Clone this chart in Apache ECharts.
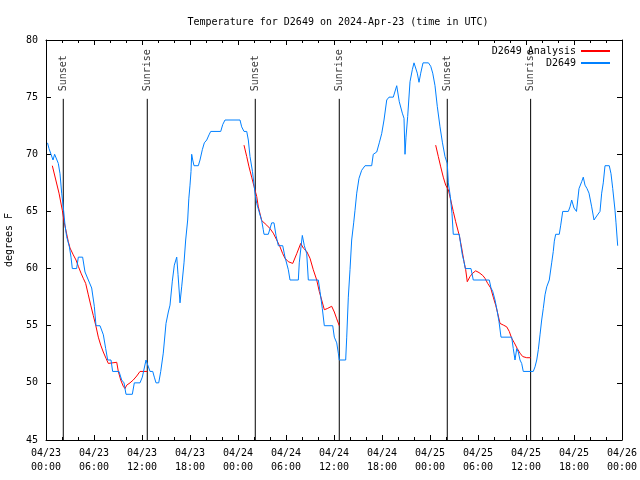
<!DOCTYPE html>
<html><head><meta charset="utf-8">
<script src="https://cdn.jsdelivr.net/npm/echarts@6/dist/echarts.min.js"></script>
<style>html,body{margin:0;padding:0;background:#fff}#c{width:640px;height:480px}</style>
</head><body><div id="c"></div><script>
// Hours since 2024-04-23 00:00 UTC
const xTickLabels = ['04/23\n00:00','04/23\n06:00','04/23\n12:00','04/23\n18:00','04/24\n00:00','04/24\n06:00','04/24\n12:00','04/24\n18:00','04/25\n00:00','04/25\n06:00','04/25\n12:00','04/25\n18:00','04/26\n00:00'];
const sunNames = ['Sunset','Sunrise','Sunset','Sunrise','Sunset','Sunrise'];
const sunHours = [2.16, 12.66, 26.16, 36.66, 50.16, 60.58];
const sunLineTop = 74.85;

const blueT = [0.19,0.375,0.625,0.875,1.08,1.33,1.54,1.75,1.96,2.17,2.375,2.58,2.92,3.125,3.29,3.83,4.04,4.58,4.875,5.29,5.71,6.04,6.25,6.75,7.17,7.46,7.71,8.125,8.33,9.125,9.46,9.75,10.0,10.79,11.04,11.75,12.04,12.5,13.0,13.34,13.54,13.75,14.09,14.34,14.66,15.0,15.29,15.5,15.79,16.04,16.34,16.5,16.75,16.96,17.25,17.46,17.71,17.85,18.0,18.125,18.21,18.34,18.5,19.04,19.25,19.54,19.79,20.09,20.375,20.59,21.84,22.09,22.375,24.25,24.46,24.75,25.09,25.29,25.5,25.81,26.125,26.34,26.625,26.96,27.16,27.25,27.79,28.21,28.5,28.75,29.04,29.59,29.875,30.09,30.29,30.5,31.54,31.66,31.875,32.04,32.29,32.59,32.79,34.04,34.25,34.54,34.79,35.84,36.04,36.34,36.54,36.66,37.46,37.59,37.79,38.0,38.21,38.46,38.625,38.84,39.125,39.46,39.875,40.71,40.91,41.34,41.66,41.96,42.25,42.59,42.875,43.41,43.84,44.16,44.54,44.75,44.875,45.0,45.21,45.5,45.79,46.0,46.25,46.41,46.625,46.84,47.125,47.81,48.09,48.34,48.625,48.91,49.25,49.56,49.875,50.16,50.29,50.54,50.75,50.91,51.66,51.84,52.04,52.25,52.41,53.125,53.41,55.41,55.625,55.84,56.125,56.34,56.625,56.875,58.21,58.41,58.625,58.84,59.04,59.25,59.46,59.66,60.91,61.125,61.34,61.54,61.75,61.96,62.16,62.375,62.59,62.91,63.21,63.41,63.54,63.71,64.16,64.34,64.59,65.29,65.5,65.71,66.0,66.31,66.625,66.96,67.16,67.375,67.625,67.875,68.21,68.5,68.84,69.25,69.46,69.66,69.875,70.41,70.625,70.84,71.125,71.25,71.46];
const blueV = [71,70.5,70,69.5,70,70,69.2,68.3,66.6,65.3,63.8,62.8,61.9,61,60,60,61,61,59.7,59,58.3,56.7,55,55,54.2,53,52,52,51,51,50.25,50,49,49,50,50,50.5,52,51,51,50.5,50,50,51,52.6,55.2,56.2,56.8,58.9,60.3,61,59.5,57,58.4,60.5,62.5,64.25,66.1,67.3,68.5,70,69.5,69,69,69.5,70.4,71,71.25,71.7,72,72,72.6,73,73,72.4,72,72,71.25,69.8,68.5,66.6,65.7,65,64.2,63.4,63,63,64,64,62.9,62,62,61,60.9,59.9,59,59,60.5,61.9,62.9,62,61.3,59,59,58,56.5,55,55,54,53.5,52.6,52,52,54,57.5,59.9,62.5,64,65.1,66.6,67.9,68.6,69,69,70,70.2,71,71.8,73,74.75,75,75,76,74.6,73.6,73.15,70,71.5,73.3,76.35,77.4,78,78,77.1,76.3,77.1,78,78,77.7,77.1,76,74.2,72.4,71,69.8,69.2,67.5,66.3,64.8,63,63,62.1,61.2,60.6,60,60,59,59,58.3,58,57.25,56.5,55.35,54,54,53,52,53,52.7,52,51.7,51,51,51.4,52,52.9,54.2,55.5,56.5,57.7,58.4,59,60.5,61.5,62.4,63,63,63.8,65,65,65.4,66,65.3,65,67,67.6,68,67.3,67,66.6,65.4,64.25,64.6,65,66.6,67.5,69,69,68.3,67,65.1,64,62];

// Analysis series; null separates the three evening-to-morning segments
const redT = [0.79,1.625,2.04,2.29,2.79,3.0,3.41,3.75,4.04,4.375,4.66,4.96,5.29,5.59,5.91,6.21,6.54,6.84,7.16,7.5,7.79,8.0,8.84,9.04,9.34,9.66,9.875,10.09,10.5,10.91,11.34,11.75,12.66,
  null,
  24.75,25.09,25.375,25.71,26.0,26.34,26.54,26.96,27.59,28.0,28.41,28.84,29.25,29.59,29.875,30.29,30.84,31.34,31.84,32.16,32.59,33.0,33.41,33.84,34.16,34.46,34.79,35.16,35.71,36.04,36.34,36.66,
  null,
  48.71,49.04,49.34,49.66,49.96,50.29,50.59,50.91,51.21,51.66,51.96,52.25,52.46,52.66,53.0,53.34,53.71,54.125,54.59,54.875,55.21,55.59,55.91,56.21,56.46,56.75,57.16,57.59,57.91,58.21,58.54,58.91,59.25,59.59,60.09,60.58];
const redV = [69,66.6,65.1,64.0,62.35,61.8,61.2,60.75,60.2,59.6,59.15,58.7,57.7,56.8,55.9,55.06,54.0,53.3,52.7,52.15,51.7,51.8,51.8,51,50.25,49.7,49.5,49.8,50,50.25,50.6,51,51,
  null,
  70.8,69.8,68.9,68.0,67.2,66.3,65.4,64.2,63.8,63.5,63.1,62.5,61.9,61.3,60.9,60.6,60.45,61.3,62.2,61.8,61.5,60.9,59.9,59,58,57.25,56.4,56.5,56.7,56.2,55.6,55.0,
  null,
  70.8,69.8,68.9,68.0,67.3,66.9,66,65,64.1,62.9,61.8,60.6,59.9,58.85,59.3,59.6,59.8,59.65,59.4,59.15,58.7,58.3,57.5,56.8,56.1,55.2,55.06,54.9,54.5,53.9,53.5,53.0,52.6,52.3,52.2,52.2];

const FONT = 'DejaVu Sans Mono';
const redSegs = [[]];
redT.forEach((t,i) => { if (t === null) redSegs.push([]); else redSegs[redSegs.length-1].push([t, redV[i]]); });
const blueData = blueT.map((t,i) => [t, blueV[i]]);

const series = [];
sunHours.forEach((t,i) => {
  series.push({type:'line', data:[[t,45],[t,sunLineTop]], symbol:'none', silent:true,
    lineStyle:{color:'#000', width:1}, z:1});
});
series.push({type:'scatter', data: sunHours.map((t,i)=>({value:[t,sunLineTop], name:sunNames[i]})),
  symbolSize:1, itemStyle:{color:'rgba(0,0,0,0)'}, silent:true,
  label:{show:true, position:'top', distance:7, rotate:90, align:'left', verticalAlign:'middle',
    formatter:p=>p.name, fontFamily:FONT, fontSize:10, color:'#000'}});
redSegs.forEach(seg => {
  series.push({name:'D2649 Analysis', type:'line', data:seg, symbol:'none', color:'#ff0000',
    lineStyle:{color:'#ff0000', width:1}, z:3});
});
series.push({name:'D2649', type:'line', data:blueData, symbol:'none', color:'#0080ff',
  lineStyle:{color:'#0080ff', width:1}, z:4});

const axisBase = {
  axisLine:{show:true, onZero:false, lineStyle:{color:'#000', width:1}},
  axisTick:{show:true, inside:true, length:5, lineStyle:{color:'#000'}},
  splitLine:{show:false}
};
const chart = echarts.init(document.getElementById('c'), null, {renderer:'canvas'});
chart.setOption({
  animation:false,
  backgroundColor:'#fff',
  title:{text:'Temperature for D2649 on 2024-Apr-23 (time in UTC)', left:333, textAlign:'center', top:12,
    textStyle:{fontFamily:FONT, fontSize:10, fontWeight:'normal', color:'#000'}},
  legend:{orient:'vertical', right:25, top:40, align:'right', itemGap:0, itemWidth:29, itemHeight:2,
    icon:'rect', data:['D2649 Analysis','D2649'],
    textStyle:{fontFamily:FONT, fontSize:10, color:'#000', lineHeight:12}},
  grid:{left:46, right:18, top:40, bottom:40, containLabel:false, outerBoundsMode:'none'},
  xAxis:[
    Object.assign({}, axisBase, {type:'value', min:0, max:72, interval:6, position:'bottom',
      minorTick:{show:true, splitNumber:3, length:3, lineStyle:{color:'#000'}},
      axisLabel:{formatter:v=>xTickLabels[Math.round(v/6)], fontFamily:FONT, fontSize:10, color:'#000', lineHeight:14, margin:6}}),
    Object.assign({}, axisBase, {type:'value', min:0, max:72, interval:6, position:'top',
      minorTick:{show:true, splitNumber:3, length:3, lineStyle:{color:'#000'}},
      axisLabel:{show:false}})
  ],
  yAxis:[
    Object.assign({}, axisBase, {type:'value', min:45, max:80, interval:5, position:'left',
      name:'degrees F', nameLocation:'middle', nameGap:32, nameRotate:90,
      nameTextStyle:{fontFamily:FONT, fontSize:10, color:'#000'},
      axisLabel:{fontFamily:FONT, fontSize:10, color:'#000', margin:8}}),
    Object.assign({}, axisBase, {type:'value', min:45, max:80, interval:5, position:'right',
      axisLabel:{show:false}})
  ],
  series: series
});
</script></body></html>
